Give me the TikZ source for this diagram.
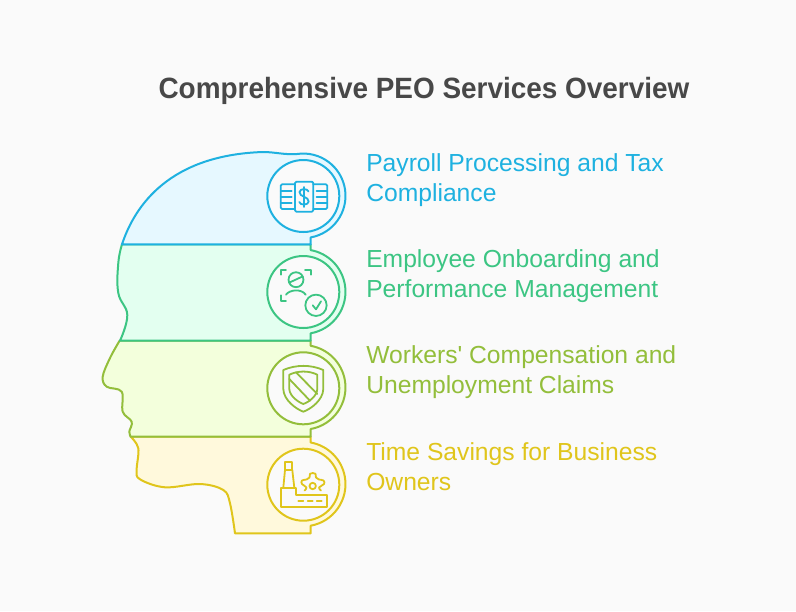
\documentclass[tikz,border=0pt]{standalone}
\usepackage{fontspec}
\setmainfont{Liberation Sans}
\newfontfamily\titlefont[FakeStretch=0.952]{Liberation Sans}
\newfontfamily\lblfont{Liberation Sans}
\definecolor{bgc}{HTML}{FAFAFA}
\definecolor{cb}{HTML}{1EB1E0}
\definecolor{cg}{HTML}{3CC583}
\definecolor{cy}{HTML}{93BE3B}
\definecolor{co}{HTML}{E0C51B}
\definecolor{fb}{HTML}{E6F8FF}
\definecolor{fg}{HTML}{E3FFF0}
\definecolor{fy}{HTML}{F3FFDC}
\definecolor{fo}{HTML}{FFF9DC}
\definecolor{tit}{HTML}{484848}
\tikzset{
  band/.style={line width=1.5pt,line join=round},
  ring/.style={circle,draw,line width=1.5pt,fill=bgc,minimum size=54pt,inner sep=0pt},
  ico/.style={line width=1.35pt,line join=round,line cap=round},
  lbl/.style={anchor=west,align=left,font=\lblfont\fontsize{18.5}{22.5}\selectfont,inner sep=0pt},
  titlenode/.style={font=\titlefont\bfseries\fontsize{22}{26}\selectfont,text=tit,inner sep=0pt}
}
\begin{document}
\begin{tikzpicture}[x=0.75pt,y=0.75pt,yscale=-1]
\useasboundingbox (0,0) rectangle (796,611);
\fill[bgc] (0,0) rectangle (796,611);
% bands
\draw[band,draw=co,fill=fo] plot[smooth,tension=0.6] coordinates {(130.7,436.7)(138.3,448.3)(136.7,470)(140,479.3)(165,487.3)(200,484)(223.3,490)(230,503.3)(235,533.3)} -- (310.7,533.3) -- (310.7,525.7) arc[start angle=79.8,end angle=-79.8,radius=31.7pt] -- (310.7,436.7) -- cycle;
\draw[band,draw=cy,fill=fy] plot[smooth,tension=0.6] coordinates {(119.6,340.7)(110,358)(102.7,376.7)(106.7,386.7)(121.7,391.7)(122.7,411.7)(131.7,421.7)(129.3,431.7)(130.7,436.7)} -- (310.7,436.7) -- (310.7,429) arc[start angle=79.8,end angle=-79.8,radius=31.7pt] -- (310.7,340.7) -- cycle;
\draw[band,draw=cg,fill=fg] plot[smooth,tension=0.7] coordinates {(122,244.3)(118.3,263)(118.3,293)(127.3,315)(120,340.7)} -- (310.7,340.7) -- (310.7,333.3) arc[start angle=79.8,end angle=-79.8,radius=31.7pt] -- (310.7,244.3) -- cycle;
\draw[band,draw=cb,fill=fb] (122,244.3) .. controls (135,205) and (170,155) .. (263,152) .. controls (275,152) and (285,155) .. (297,154) arc[start angle=-98.5,end angle=79.8,radius=31.7pt] -- (310.7,244.3) -- cycle;
% rings
\node[ring,draw=cb] (r1) at (303.3,196) {};
\node[ring,draw=cg] (r2) at (303.3,292) {};
\node[ring,draw=cy] (r3) at (303.3,388.3) {};
\node[ring,draw=co] (r4) at (303.3,484.7) {};
% icon 1
\begin{scope}[ico,draw=cb]
\draw[rounded corners=1pt] (295,184.3) -- (280.7,184.3) -- (280.7,209) -- (295,209);
\draw[rounded corners=1pt] (313.3,184.3) -- (327.3,184.3) -- (327.3,209) -- (313.3,209);
\draw[rounded corners=1pt] (295,181.7) rectangle (313.3,211.7);
\foreach \yy in {190.7,196.7,202.7}{
  \draw (280.7,\yy) -- (291.7,\yy);
  \draw (316.5,\yy) -- (327.3,\yy);
}
\draw (304,187) -- (304,207);
\draw (308.5,191.5) .. controls (308,188.5) and (300,188) .. (299.5,192) .. controls (299,197) and (309,196.5) .. (308.7,201.5) .. controls (308.5,205.5) and (299.7,205.5) .. (299.3,202);
\end{scope}
% icon 2
\begin{scope}[ico,draw=cg]
\draw (280.7,274.7) -- (280.7,269.7) -- (286,269.7);
\draw (305,269.7) -- (310.7,269.7) -- (310.7,274.7);
\draw (280.7,295.3) -- (280.7,300.7) -- (286,300.7);
\draw (296,279.7) circle[radius=5.6pt];
\draw (289.5,282.5) -- (302.5,276.5);
\draw (286,294.7) .. controls (289,290) and (301,288) .. (305.7,294.7);
\draw (316,305.3) circle[radius=8pt];
\draw (312.7,305.3) -- (316,309.3) -- (321,301.3);
\end{scope}
% icon 3
\begin{scope}[ico,draw=cy]
\draw (283.3,370) .. controls (296,364.5) and (311,364.5) .. (323.3,370) -- (323.3,389) .. controls (323,400) and (311,409) .. (303.3,411.7) .. controls (296,409) and (283.6,400) .. (283.3,389) -- cycle;
\draw (289.3,374.7) .. controls (298,370.5) and (309,370.5) .. (317.3,374.7) -- (317.3,389) .. controls (317,396) and (309,402) .. (303.3,404) .. controls (298,402) and (289.6,396) .. (289.3,389) -- cycle;
\draw (296,372.3) -- (317.3,394);
\draw (289.3,379) -- (310,400.7);
\end{scope}
% icon 4
\begin{scope}[ico,draw=co]
\draw (280.7,487.7) -- (296,487.7) -- (296,495) -- (326.7,495) -- (326.7,506.7) -- (280.7,506.7) -- cycle;
\draw (285,470) -- (285,461.7) -- (292.3,461.7) -- (292.3,470) -- cycle;
\draw (285,470) -- (283.3,487.7);
\draw (292.3,470) -- (294.3,487.7);
\draw (298.3,501) -- (303.3,501);
\draw (307.7,501) -- (312.7,501);
\draw (316.7,501) -- (321.7,501);
\draw (312.7,486) circle[radius=2.4pt];
\draw plot[smooth,tension=0.7] coordinates {(304.5,490.5)(306.5,487.5)(302,484)(302,480.5)(306.5,479.5)(309.5,477.5)(310,473.8)(312.7,473)(315.5,473.8)(316,477.5)(319,479.5)(323.5,480.5)(324,484)(319,487.5)(321,490.5)};
\end{scope}
% text
\node[titlenode] (title) at (424,90.5) {Comprehensive PEO Services Overview};
\node[lbl,text=cb] (t1) at (366,180.5) {Payroll Processing and Tax\\Compliance};
\node[lbl,text=cg] (t2) at (366,276.5) {Employee Onboarding and\\Performance Management};
\node[lbl,text=cy] (t3) at (366,372.5) {Workers' Compensation and\\Unemployment Claims};
\node[lbl,text=co] (t4) at (366,467) {Time Savings for Business\\Owners};
\end{tikzpicture}
\end{document}
